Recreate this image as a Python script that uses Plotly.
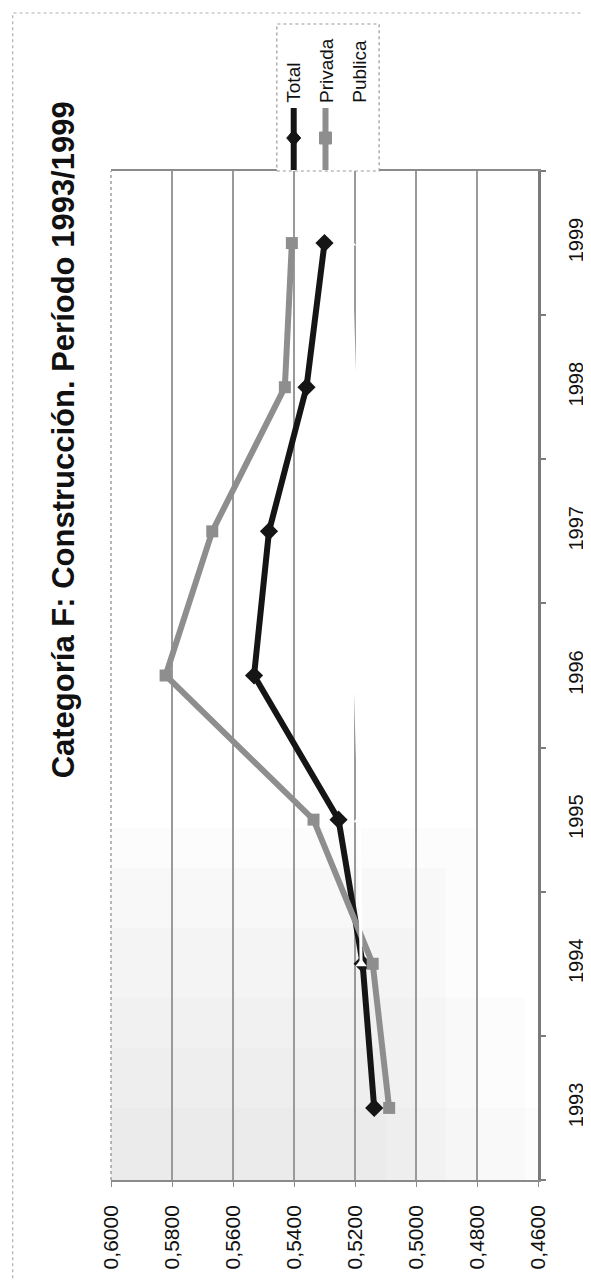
import plotly.graph_objects as go

years = [1993, 1994, 1995, 1996, 1997, 1998, 1999]
total = [0.5137, 0.5175, 0.5254, 0.5531, 0.5482, 0.5359, 0.5300]
privada = [0.5088, 0.5142, 0.5336, 0.5821, 0.5668, 0.5430, 0.5407]
publica = [None, 0.5180, 0.5186, 0.5200, 0.5200, 0.5200, 0.5215]
value_ticks = [0.46, 0.48, 0.50, 0.52, 0.54, 0.56, 0.58, 0.60]
value_labels = ["0,4600", "0,4800", "0,5000", "0,5200", "0,5400", "0,5600", "0,5800", "0,6000"]
year_labels = [str(y) for y in years]
series_names = ["Total", "Privada", "Publica"]
title_text = "Categoría F: Construcción. Período 1993/1999"

W, H = 591, 1280
L, R, T, B = 103, 58, 163, 108
PW, PH = W - L - R, H - T - B
FONT = "Liberation Sans, Arial, sans-serif"


def px(xp):
    return (xp - L) / PW


def py(yp):
    return (H - B - yp) / PH


fig = go.Figure()
fig.add_trace(go.Scatter(x=total, y=years, mode="lines+markers", name=series_names[0],
                         line=dict(color="#151515", width=6),
                         marker=dict(symbol="diamond", size=14, color="#151515"),
                         showlegend=False))
fig.add_trace(go.Scatter(x=privada, y=years, mode="lines+markers", name=series_names[1],
                         line=dict(color="#8e8e8e", width=6),
                         marker=dict(symbol="square", size=12, color="#8e8e8e"),
                         showlegend=False))
fig.add_trace(go.Scatter(x=publica, y=years, mode="lines+markers", name=series_names[2],
                         line=dict(color="#ffffff", width=3),
                         marker=dict(symbol="triangle-up", size=10, color="#ffffff"),
                         showlegend=False))

shapes = []
# soft scanned stipple shading in the lower-left part of the plot
for x_right, y_top, alpha in [(470, 820, 0.012), (440, 860, 0.014), (410, 920, 0.014),
                              (520, 990, 0.012), (380, 1040, 0.012), (533, 1100, 0.01)]:
    shapes.append(dict(type="rect", xref="paper", yref="paper", x0=0, x1=px(x_right), y0=0, y1=py(y_top),
                       fillcolor="rgba(0,0,0,%s)" % alpha, line=dict(width=0), layer="below"))
# left border of plot
shapes.append(dict(type="line", xref="paper", yref="paper", x0=0, x1=0, y0=0, y1=1,
                   line=dict(color="#a0a0a0", width=1.5, dash="dot")))
# outer chart border
shapes.append(dict(type="rect", xref="paper", yref="paper", x0=px(4), x1=px(589), y0=py(1277), y1=py(5),
                   line=dict(color="#b0b0b0", width=1.2, dash="dot"), fillcolor="rgba(0,0,0,0)"))
# legend box
shapes.append(dict(type="rect", xref="paper", yref="paper", x0=px(270), x1=px(373), y0=py(163), y1=py(16),
                   line=dict(color="#999999", width=1.2, dash="dot"), fillcolor="white"))
# legend symbols
shapes.append(dict(type="line", xref="paper", yref="paper", x0=px(287), x1=px(287), y0=py(162), y1=py(100),
                   line=dict(color="#151515", width=6)))
shapes.append(dict(type="path", xref="paper", yref="paper", xsizemode="pixel", ysizemode="pixel",
                   xanchor=px(287), yanchor=py(130), path="M 0 8 L 7 0 L 0 -8 L -7 0 Z",
                   fillcolor="#151515", line=dict(color="#151515", width=1)))
shapes.append(dict(type="line", xref="paper", yref="paper", x0=px(319), x1=px(319), y0=py(162), y1=py(100),
                   line=dict(color="#8e8e8e", width=6)))
shapes.append(dict(type="rect", xref="paper", yref="paper", xsizemode="pixel", ysizemode="pixel",
                   xanchor=px(319), yanchor=py(130), x0=-6, x1=6, y0=-6, y1=6,
                   fillcolor="#8e8e8e", line=dict(color="#8e8e8e", width=1)))

annotations = []
annotations.append(dict(text="<b>" + title_text + "</b>", xref="paper", yref="paper",
                        x=px(55), y=py(432), xanchor="center", yanchor="middle", textangle=-90,
                        showarrow=False, font=dict(family=FONT, size=31, color="#111111")))
for name, xc in zip(series_names, [287, 320, 353]):
    annotations.append(dict(text=name, xref="paper", yref="paper", x=px(xc), y=py(97),
                            xanchor="center", yanchor="bottom", textangle=-90, showarrow=False,
                            font=dict(family=FONT, size=19, color="#111111")))

fig.update_layout(
    width=W, height=H, autosize=False,
    margin=dict(l=L, r=R, t=T, b=B, pad=0),
    paper_bgcolor="white", plot_bgcolor="white",
    showlegend=False,
    shapes=shapes, annotations=annotations,
    xaxis=dict(range=[0.60, 0.46], tickmode="array", tickvals=value_ticks, ticktext=value_labels,
               tickangle=-90, tickfont=dict(family=FONT, size=21, color="#111111"),
               showgrid=True, gridcolor="#9a9a9a", gridwidth=1.5, zeroline=False,
               showline=True, linecolor="#8a8a8a", linewidth=1.5, mirror=True,
               ticks="outside", ticklen=5, tickcolor="#8a8a8a", ticklabelstandoff=10),
    yaxis=dict(range=[1992.5, 1999.5], side="right", tickmode="array", tickvals=years,
               ticktext=year_labels, tickangle=-90,
               tickfont=dict(family=FONT, size=20, color="#111111"),
               showgrid=False, zeroline=False, showline=True, linecolor="#7a7a7a", linewidth=3,
               ticks="", ticklabelstandoff=18,
               minor=dict(tickmode="array", tickvals=[y - 0.5 for y in years] + [years[-1] + 0.5],
                          ticks="outside", ticklen=5, tickcolor="#7a7a7a", tickwidth=1.5, showgrid=False)),
)

fig.write_html("out.html")
